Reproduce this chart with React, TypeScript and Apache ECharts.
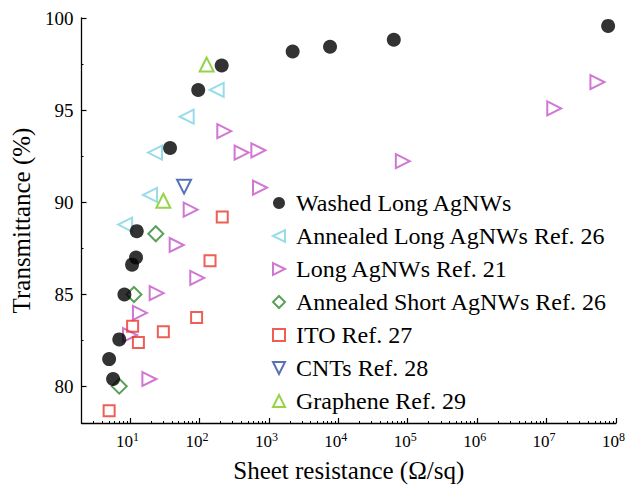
import React, { useEffect, useRef } from "react";
import * as echarts from "echarts";

// Sheet resistance (Ω/sq) , Transmittance (%)
const WASHED_LONG: number[][] = [
  [5.0, 81.47], [5.7, 80.39], [7.0, 82.54], [8.3, 84.98], [10.7, 86.6], [12.2, 86.99],
  [12.5, 88.42], [37.7, 92.94], [96, 96.09], [209, 97.42], [2200, 98.18], [7600, 98.44],
  [63000, 98.82], [77000000, 99.57],
];
const ANNEALED_LONG: number[][] = [
  [8.5, 88.78], [19.4, 90.39], [22.9, 92.69], [65.5, 94.64], [177, 96.09],
];
const LONG_REF21: number[][] = [
  [10, 82.78], [13.9, 83.98], [19, 80.39], [24.2, 85.05], [47, 87.67], [74.8, 89.59],
  [93, 85.88], [228, 93.85], [405, 92.69], [705, 92.81], [745, 90.79], [85000, 92.22],
  [12900000, 95.09], [54000000, 96.52],
];
const ANNEALED_SHORT: number[][] = [[7.0, 80.0], [11.4, 84.98], [23.5, 88.28]];
const ITO: number[][] = [
  [5.0, 78.66], [10.9, 83.26], [13.2, 82.37], [30.2, 82.96], [91, 83.73], [142, 86.81], [213, 89.19],
];
const CNTS: number[][] = [[60, 90.84]];
const GRAPHENE: number[][] = [[30.2, 90.07], [127, 97.47]];

const SERIES_NAMES = [
  "Washed Long AgNWs",
  "Annealed Long AgNWs Ref. 26",
  "Long AgNWs Ref. 21",
  "Annealed Short AgNWs Ref. 26",
  "ITO Ref. 27",
  "CNTs Ref. 28",
  "Graphene Ref. 29",
];
const SERIES_ROTATE = [0, 90, -90, 0, 0, 180, 0];
const LEGEND_ICONS = [
  "circle",
  "path://M0,5L10,0L10,10Z",
  "path://M10,5L0,0L0,10Z",
  "diamond",
  "rect",
  "path://M0,0L10,0L5,10Z",
  "triangle",
];

const X_MAJOR = [10, 100, 1000, 10000, 100000, 1000000, 10000000, 100000000];
const X_MINOR: number[] = [];
[1, 10, 100, 1000, 10000, 100000, 1000000, 10000000].forEach((d) => {
  for (let k = 2; k <= 9; k++) X_MINOR.push(k * d);
});
const Y_MAJOR = [80, 85, 90, 95, 100];
const Y_MINOR = [82.5, 87.5, 92.5, 97.5];

const FONT = "'Liberation Serif', 'Times New Roman', serif";

export default function App() {
  const ref = useRef<HTMLDivElement>(null);
  useEffect(() => {
    if (!ref.current) return;
    const chart = echarts.init(ref.current, null, { renderer: "svg" });
    const open = (
      name: string,
      data: number[][],
      symbol: string,
      color: string,
      size: number,
      rotate = 0
    ) => ({
      name,
      type: "scatter",
      data,
      symbol,
      symbolSize: size,
      symbolRotate: rotate,
      itemStyle: { color: "rgba(255,255,255,0)", borderColor: color, borderWidth: 2 },
      emphasis: { disabled: true },
    });
    chart.setOption({
      animation: false,
      textStyle: { fontFamily: FONT },
      grid: { left: 81.5, right: 12, top: 18, bottom: 61, containLabel: false },
      legend: {
        orient: "vertical",
        left: 272,
        top: 191,
        padding: 0,
        itemWidth: 12,
        itemHeight: 12,
        itemGap: 9,
        textStyle: { fontFamily: FONT, fontSize: 24, color: "#000", padding: [0, 0, 0, 6] },
        data: SERIES_NAMES.map((n, i) => ({ name: n, icon: LEGEND_ICONS[i] })),
      },
      xAxis: [
        {
          type: "log",
          min: 2,
          max: 100000000,
          name: "Sheet resistance (Ω/sq)",
          nameLocation: "middle",
          nameGap: 35,
          nameTextStyle: { fontFamily: FONT, fontSize: 25, color: "#000" },
          axisLine: { lineStyle: { color: "#000", width: 1.3 } },
          axisTick: { inside: true, length: 5, customValues: X_MAJOR, lineStyle: { color: "#000", width: 1.2 } },
          axisLabel: {
            customValues: X_MAJOR,
            margin: 8,
            fontFamily: FONT,
            padding: [0, 5, 0, 0],
            formatter: (v: number) => `{b|10}{s|${Math.round(Math.log10(v))}}`,
            rich: {
              b: { fontFamily: FONT, fontSize: 17, color: "#000", lineHeight: 20 },
              s: { fontFamily: FONT, fontSize: 12, color: "#000", verticalAlign: "top", lineHeight: 12 },
            },
          },
          splitLine: { show: false },
        },
        {
          type: "log",
          min: 2,
          max: 100000000,
          position: "bottom",
          offset: 0,
          axisLine: { show: false },
          axisTick: { inside: true, length: 2, customValues: X_MINOR, lineStyle: { color: "#000", width: 1 } },
          axisLabel: { show: false },
          splitLine: { show: false },
        },
      ],
      yAxis: [
        {
          type: "value",
          min: 78,
          max: 100,
          position: "left",
          name: "Transmittance (%)",
          nameLocation: "middle",
          nameGap: 48,
          nameTextStyle: { fontFamily: FONT, fontSize: 25, color: "#000" },
          axisLine: { lineStyle: { color: "#000", width: 1.3 } },
          axisTick: { inside: true, length: 5, customValues: Y_MAJOR, lineStyle: { color: "#000", width: 1.2 } },
          axisLabel: {
            customValues: Y_MAJOR,
            margin: 8,
            fontFamily: FONT,
            fontSize: 19,
            color: "#000",
          },
          splitLine: { show: false },
        },
        {
          type: "value",
          min: 78,
          max: 100,
          position: "left",
          offset: 0,
          axisLine: { show: false },
          axisTick: { inside: true, length: 2, customValues: Y_MINOR, lineStyle: { color: "#000", width: 1 } },
          axisLabel: { show: false },
          splitLine: { show: false },
        },
      ],
      series: [
        {
          name: SERIES_NAMES[0],
          type: "scatter",
          data: WASHED_LONG,
          symbol: "circle",
          symbolSize: 14,
          itemStyle: { color: "#000" },
          emphasis: { disabled: true },
          z: 3,
        },
        open(SERIES_NAMES[1], ANNEALED_LONG, "triangle", "#7ed3e3", 14, SERIES_ROTATE[1]),
        open(SERIES_NAMES[2], LONG_REF21, "triangle", "#c455c8", 14, SERIES_ROTATE[2]),
        open(SERIES_NAMES[3], ANNEALED_SHORT, "diamond", "#2f8a30", 15),
        open(SERIES_NAMES[4], ITO, "rect", "#e8362b", 11),
        open(SERIES_NAMES[5], CNTS, "triangle", "#2d4ea3", 14, SERIES_ROTATE[5]),
        open(SERIES_NAMES[6], GRAPHENE, "triangle", "#7cc81c", 14),
      ],
    });
    return () => chart.dispose();
  }, []);
  return (
    <div
      ref={ref}
      style={{ position: "absolute", left: 0, top: 0, width: 628, height: 488 }}
    />
  );
}
